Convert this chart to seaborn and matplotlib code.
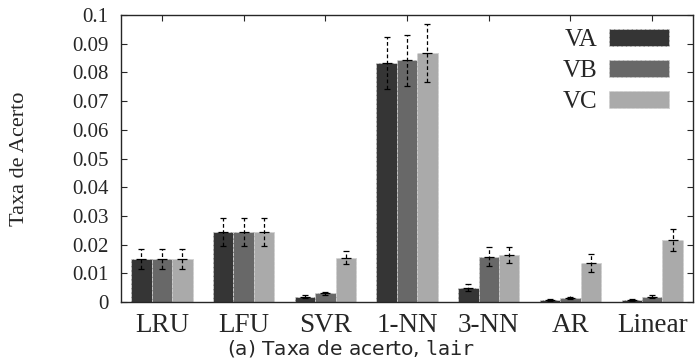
import numpy as np
import pandas as pd
import matplotlib
matplotlib.use("Agg")
import matplotlib.pyplot as plt
from matplotlib.ticker import FuncFormatter
import seaborn as sns

# data
categories = ["LRU", "LFU", "SVR", "1-NN", "3-NN", "AR", "Linear"]
series = ["VA", "VB", "VC"]
va = [0.0150, 0.0244, 0.0018, 0.0832, 0.0050, 0.0007, 0.0006]
vb = [0.0150, 0.0244, 0.0030, 0.0843, 0.0158, 0.0015, 0.0018]
vc = [0.0150, 0.0244, 0.0154, 0.0868, 0.0163, 0.0137, 0.0216]
va_err = [0.0036, 0.0050, 0.0005, 0.0090, 0.0012, 0.0003, 0.0003]
vb_err = [0.0036, 0.0050, 0.0006, 0.0089, 0.0032, 0.0004, 0.0005]
vc_err = [0.0036, 0.0050, 0.0023, 0.0102, 0.0027, 0.0031, 0.0038]
colors = ["#353535", "#686868", "#aaaaaa"]

df = pd.DataFrame({
    "metodo": categories * 3,
    "serie": [s for s in series for _ in categories],
    "taxa": va + vb + vc,
    "erro": va_err + vb_err + vc_err,
})

sns.set_style("ticks")
plt.rcParams["font.family"] = ["Liberation Serif", "DejaVu Serif"]
plt.rcParams["mathtext.fontset"] = "dejavusans"

fig = plt.figure(figsize=(6.95, 3.6), dpi=100)
ax = fig.add_axes([121 / 695, 1 - 302 / 360, 572 / 695, 287 / 360])

sns.barplot(data=df, x="metodo", y="taxa", hue="serie", order=categories,
            hue_order=series, palette=colors, width=0.75, gap=0,
            errorbar=None, saturation=1, ax=ax, edgecolor="#cfcfcf",
            linewidth=0.6, linestyle="--")

# error bars on top of the bars, centred on each patch
for cont, s in zip(ax.containers, series):
    sub = df[df["serie"] == s].set_index("metodo").loc[categories]
    xs = [p.get_x() + p.get_width() / 2 for p in cont.patches]
    eb = ax.errorbar(xs, sub["taxa"], yerr=sub["erro"], fmt="none",
                     ecolor="black", elinewidth=0.9, capsize=2.5,
                     capthick=0.9)
    eb[2][0].set_linestyle((0, (3, 2)))
    ax.plot(xs, sub["taxa"], ls="none", marker="_", ms=7, mew=0.9,
            color="black")

ax.set_xlim(-0.5, 6.5)
ax.set_ylim(0, 0.1)
ax.set_yticks(np.arange(0, 0.101, 0.01))
ax.yaxis.set_major_formatter(FuncFormatter(lambda v, p: "%g" % round(v, 3)))
ax.tick_params(direction="in", top=True, right=True, length=4, width=0.8)
ax.tick_params(axis="y", labelsize=15, pad=9)
ax.tick_params(axis="x", labelsize=19.5, pad=8)
for sp in ax.spines.values():
    sp.set_linewidth(1.0)
    sp.set_visible(True)

ax.set_xlabel("")
ax.set_ylabel("Taxa de Acerto", fontsize=16)
ax.yaxis.set_label_coords(-0.16, 0.5)

ax.legend(loc="upper right", bbox_to_anchor=(0.958, 0.95), frameon=False,
          markerfirst=False, fontsize=18, handlelength=2.4,
          handleheight=0.65, labelspacing=0.35, handletextpad=0.45,
          borderpad=0, borderaxespad=0)

fig.text(0.505, 0.033, r"(a) Taxa de acerto, $\mathtt{lair}$",
         family="DejaVu Sans", fontsize=14.5, ha="center", va="center")

fig.savefig("out.png", dpi=100)
